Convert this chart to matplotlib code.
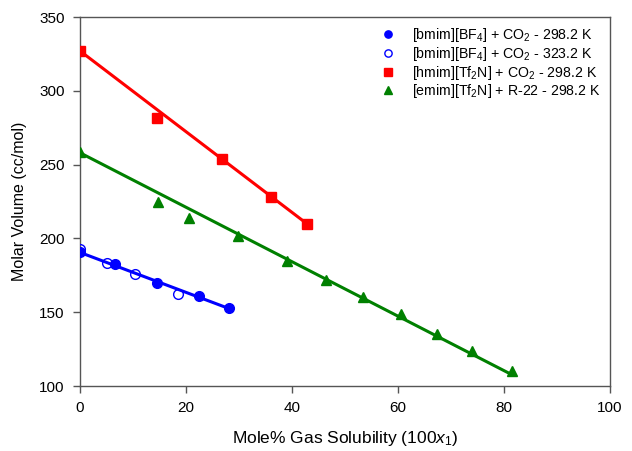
import matplotlib
matplotlib.use("Agg")
import matplotlib.pyplot as plt

plt.rcParams['font.family'] = ['Liberation Sans', 'DejaVu Sans']
plt.rcParams['mathtext.fontset'] = 'custom'
plt.rcParams['mathtext.rm'] = 'Liberation Sans'
plt.rcParams['mathtext.it'] = 'Liberation Sans:italic'
plt.rcParams['mathtext.bf'] = 'Liberation Sans:bold'

# Data
bmim298_x = [0, 6.6, 14.5, 22.4, 28.1]
bmim298_y = [190.8, 182.5, 169.8, 161.0, 153.0]
bmim323_x = [0, 5.1, 10.4, 18.5]
bmim323_y = [192.8, 183.3, 175.8, 162.3]
hmim_x = [0, 14.6, 26.8, 36.1, 42.8]
hmim_y = [327, 281.5, 253.5, 228, 210]
emim_x = [0, 14.7, 20.5, 29.8, 39, 46.5, 53.5, 60.5, 67.4, 74, 81.6]
emim_y = [258.5, 225, 214, 201.6, 185, 172, 160, 148.5, 135.5, 124, 110.5]

# Fit lines (endpoints)
blue_line_x = [0, 28.1]
blue_line_y = [190.5, 152.5]
red_line_x = [0, 42.8]
red_line_y = [327, 210]
green_line_x = [0, 81.6]
green_line_y = [258, 107.5]

labels = [r'[bmim][BF$_4$] + CO$_2$ - 298.2 K',
          r'[bmim][BF$_4$] + CO$_2$ - 323.2 K',
          r'[hmim][Tf$_2$N] + CO$_2$ - 298.2 K',
          r'[emim][Tf$_2$N] + R-22 - 298.2 K']

fig = plt.figure(figsize=(6.32, 4.51), dpi=100)
ax = fig.add_axes([0.1266, 0.1441, 0.8384, 0.8182])

ax.plot(blue_line_x, blue_line_y, color='#0000ff', lw=2.2, zorder=2)
ax.plot(red_line_x, red_line_y, color='#ff0000', lw=2.2, zorder=2)
ax.plot(green_line_x, green_line_y, color='#008000', lw=2.2, zorder=2)

h1, = ax.plot(bmim298_x, bmim298_y, 'o', color='#0000ff', ms=7, ls='none', label=labels[0], zorder=3)
h2, = ax.plot(bmim323_x, bmim323_y, 'o', mfc='none', mec='#0000ff', mew=1.0, ms=7, ls='none', label=labels[1], zorder=3)
h3, = ax.plot(hmim_x, hmim_y, 's', color='#ff0000', ms=7, ls='none', label=labels[2], zorder=3)
h4, = ax.plot(emim_x, emim_y, '^', color='#008000', ms=7.5, ls='none', label=labels[3], zorder=3)

ax.set_xlim(0, 100)
ax.set_ylim(100, 350)
ax.set_xticks([0, 20, 40, 60, 80, 100])
ax.set_yticks([100, 150, 200, 250, 300, 350])
ax.tick_params(direction='out', length=5, width=1, labelsize=11, colors='black', pad=6)
ax.tick_params(axis='both', color='#555555')
for s in ax.spines.values():
    s.set_color('#555555')
    s.set_linewidth(1.0)

ax.set_xlabel(r'Mole% Gas Solubility (100$x_1$)', fontsize=12.5, labelpad=10)
ax.set_ylabel('Molar Volume (cc/mol)', fontsize=11.5, labelpad=9)

leg = ax.legend(handles=[h1, h2, h3, h4], loc='upper right', frameon=False,
                fontsize=10.2, handletextpad=1.1, borderaxespad=0.25,
                labelspacing=0.05, handlelength=1.2, markerscale=0.75)

fig.savefig('out.png', dpi=100)
